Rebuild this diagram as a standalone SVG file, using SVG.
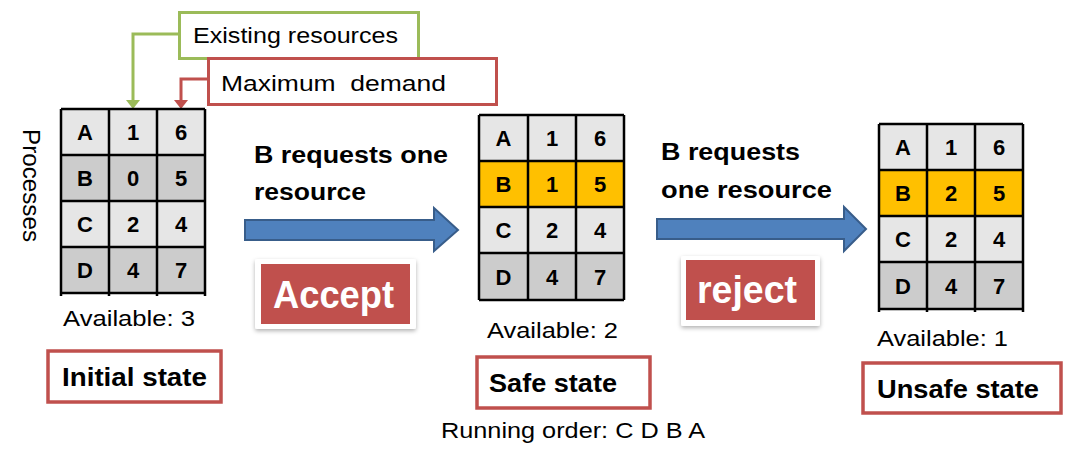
<svg xmlns="http://www.w3.org/2000/svg" width="1090" height="453" viewBox="0 0 1090 453">
<style>
text{font-family:"Liberation Sans",Arial,sans-serif;fill:#000}
.cell{font-size:22px;font-weight:bold;text-anchor:middle}
.lt{fill:#E6E6E6}
.dk{fill:#CCCCCC}
.or{fill:#FFC000}
.grid{stroke:#000;stroke-width:2.5;fill:none}
.lab{font-size:22px}
.req{font-size:23px;font-weight:bold}
.state{fill:#fff;stroke:#C0504D;stroke-width:3.5}
.stxt{font-size:26px;font-weight:bold}
.badge{font-size:38px;font-weight:bold;fill:#fff}
.big{fill:#4F81BD;stroke:#385D8A;stroke-width:2}
</style>
<defs>
<filter id="sh" x="-10%" y="-10%" width="120%" height="130%">
<feDropShadow dx="0" dy="2" stdDeviation="2" flood-color="#000" flood-opacity="0.3"/>
</filter>
</defs>

<!-- connectors -->
<g id="connectors">
<path d="M178,34 H133 V101" fill="none" stroke="#9BBB59" stroke-width="3"/>
<path d="M126,100 L140,100 L133,109 Z" fill="#9BBB59"/>
<path d="M207,79 H181 V101" fill="none" stroke="#C0504D" stroke-width="3"/>
<path d="M174,100 L188,100 L181,109 Z" fill="#C0504D"/>
<path class="big" d="M245,220 H434 V208 L458,230 L434,251 V240 H245 Z"/>
<path class="big" d="M657,219 H844 V207 L866,229 L844,251 V239 H657 Z"/>
</g>

<!-- callouts -->
<g id="existing">
<rect x="179.5" y="12.5" width="239" height="46" fill="#fff" stroke="#9BBB59" stroke-width="3"/>
<text class="lab" x="193" y="43" textLength="205" lengthAdjust="spacingAndGlyphs">Existing resources</text>
</g>
<g id="maxdemand">
<rect x="208.5" y="58.5" width="288" height="46" fill="#fff" stroke="#C0504D" stroke-width="3"/>
<text class="lab" x="221" y="91" textLength="225" lengthAdjust="spacingAndGlyphs" xml:space="preserve">Maximum  demand</text>
</g>

<g id="processes">
<text transform="translate(23,129) rotate(90)" font-size="23" textLength="113" lengthAdjust="spacingAndGlyphs">Processes</text>
</g>

<!-- table 1 -->
<g id="table1">
<rect class="lt" x="61" y="109" width="144" height="46"/>
<rect class="dk" x="61" y="155" width="144" height="46"/>
<rect class="lt" x="61" y="201" width="144" height="46"/>
<rect class="dk" x="61" y="247" width="144" height="46"/>
<path class="grid" d="M61,109 H205 M61,155 H205 M61,201 H205 M61,247 H205 M61,293 H205 M61,109 V296 M109,109 V296 M157,109 V296 M205,109 V296"/>
<text class="cell" x="85" y="140">A</text><text class="cell" x="133" y="140">1</text><text class="cell" x="181" y="140">6</text>
<text class="cell" x="85" y="186">B</text><text class="cell" x="133" y="186">0</text><text class="cell" x="181" y="186">5</text>
<text class="cell" x="85" y="232">C</text><text class="cell" x="133" y="232">2</text><text class="cell" x="181" y="232">4</text>
<text class="cell" x="85" y="278">D</text><text class="cell" x="133" y="278">4</text><text class="cell" x="181" y="278">7</text>
<text class="lab" x="63" y="326" textLength="132" lengthAdjust="spacingAndGlyphs">Available: 3</text>
</g>

<!-- table 2 -->
<g id="table2">
<rect class="lt" x="479" y="115" width="145" height="46"/>
<rect class="or" x="479" y="161" width="145" height="46"/>
<rect class="lt" x="479" y="207" width="145" height="46"/>
<rect class="dk" x="479" y="253" width="145" height="47"/>
<path class="grid" d="M479,115 H624 M479,161 H624 M479,207 H624 M479,253 H624 M479,300 H624 M479,115 V300 M528,115 V300 M576,115 V300 M624,115 V300"/>
<text class="cell" x="503.5" y="146">A</text><text class="cell" x="552" y="146">1</text><text class="cell" x="600" y="146">6</text>
<text class="cell" x="503.5" y="192">B</text><text class="cell" x="552" y="192">1</text><text class="cell" x="600" y="192">5</text>
<text class="cell" x="503.5" y="238">C</text><text class="cell" x="552" y="238">2</text><text class="cell" x="600" y="238">4</text>
<text class="cell" x="503.5" y="285">D</text><text class="cell" x="552" y="285">4</text><text class="cell" x="600" y="285">7</text>
<text class="lab" x="487" y="338" textLength="131" lengthAdjust="spacingAndGlyphs">Available: 2</text>
</g>

<!-- table 3 -->
<g id="table3">
<rect class="lt" x="879" y="124" width="144" height="46"/>
<rect class="or" x="879" y="170" width="144" height="46"/>
<rect class="lt" x="879" y="216" width="144" height="46"/>
<rect class="dk" x="879" y="262" width="144" height="47"/>
<path class="grid" d="M879,124 H1023 M879,170 H1023 M879,216 H1023 M879,262 H1023 M879,309 H1023 M879,124 V312 M927,124 V312 M975,124 V312 M1023,124 V312"/>
<text class="cell" x="903" y="155">A</text><text class="cell" x="951" y="155">1</text><text class="cell" x="999" y="155">6</text>
<text class="cell" x="903" y="201">B</text><text class="cell" x="951" y="201">2</text><text class="cell" x="999" y="201">5</text>
<text class="cell" x="903" y="247">C</text><text class="cell" x="951" y="247">2</text><text class="cell" x="999" y="247">4</text>
<text class="cell" x="903" y="294">D</text><text class="cell" x="951" y="294">4</text><text class="cell" x="999" y="294">7</text>
<text class="lab" x="877" y="346" textLength="131" lengthAdjust="spacingAndGlyphs">Available: 1</text>
</g>

<!-- request labels -->
<g id="request1">
<text class="req" x="254" y="163" textLength="194" lengthAdjust="spacingAndGlyphs">B requests one</text>
<text class="req" x="254" y="200" textLength="112" lengthAdjust="spacingAndGlyphs">resource</text>
</g>
<g id="request2">
<text class="req" x="661" y="160" textLength="139" lengthAdjust="spacingAndGlyphs">B requests</text>
<text class="req" x="661" y="198" textLength="171" lengthAdjust="spacingAndGlyphs">one resource</text>
</g>

<!-- badges -->
<g id="accept">
<rect x="255" y="259" width="161" height="70" rx="2" fill="#fff" filter="url(#sh)"/>
<rect x="261" y="264" width="149" height="60" fill="#C0504D"/>
<text class="badge" x="273" y="308" textLength="121" lengthAdjust="spacingAndGlyphs">Accept</text>
</g>
<g id="reject">
<rect x="681" y="256" width="139" height="70" rx="2" fill="#fff" filter="url(#sh)"/>
<rect x="686" y="260" width="129" height="60" fill="#C0504D"/>
<text class="badge" x="697" y="303" textLength="100" lengthAdjust="spacingAndGlyphs">reject</text>
</g>

<!-- states -->
<g id="initial">
<rect class="state" x="48" y="351" width="173" height="51"/>
<text class="stxt" x="62" y="386" textLength="145" lengthAdjust="spacingAndGlyphs">Initial state</text>
</g>
<g id="safe">
<rect class="state" x="477" y="357" width="173" height="51"/>
<text class="stxt" x="489" y="392" textLength="128" lengthAdjust="spacingAndGlyphs">Safe state</text>
</g>
<g id="unsafe">
<rect class="state" x="863" y="363" width="198" height="50"/>
<text class="stxt" x="877" y="398" textLength="162" lengthAdjust="spacingAndGlyphs">Unsafe state</text>
</g>

<g id="running">
<text class="lab" x="441" y="438" textLength="264" lengthAdjust="spacingAndGlyphs">Running order: C D B A</text>
</g>
</svg>
